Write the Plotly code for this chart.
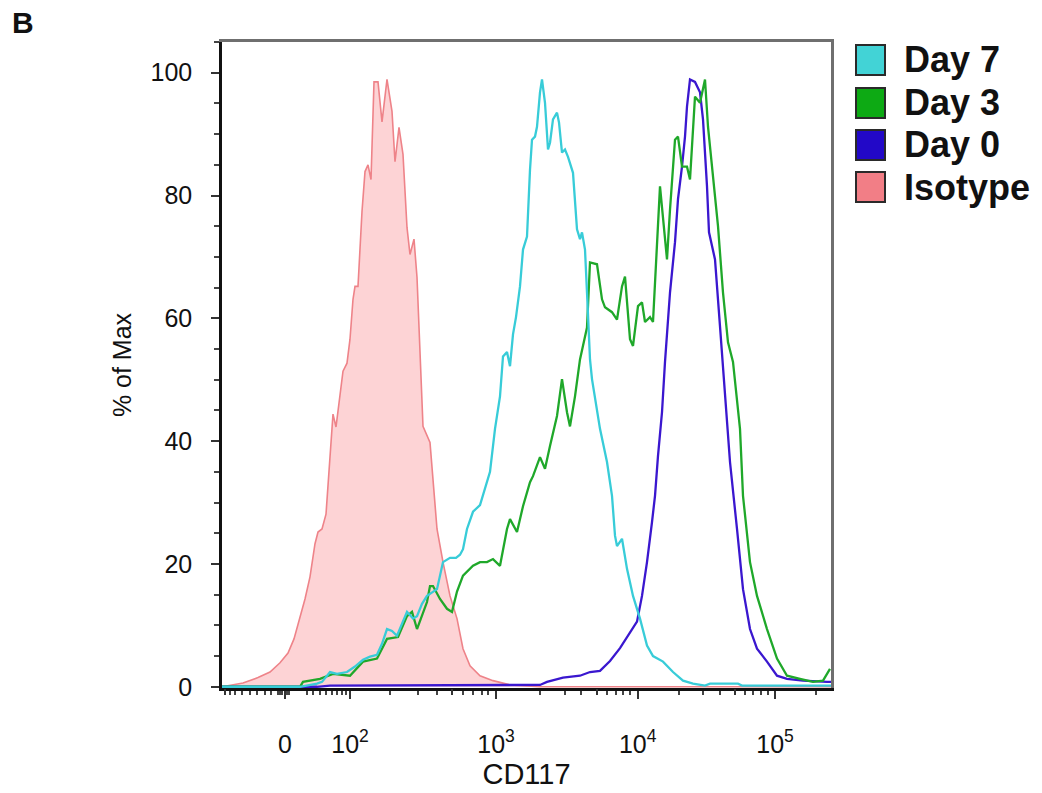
import plotly.graph_objects as go

# ---------------- data ----------------
# x = display channel on the biexponential CD117 axis (0 = left edge of the plot)
# y = % of Max
ISO_X = [0, 21, 36, 48, 58, 66, 72, 78, 83, 88,
         93, 96, 100, 104, 107, 109, 111, 114, 117, 121,
         125, 128, 131, 133, 136, 140, 143, 146, 149, 152,
         156, 160, 165, 170, 173, 177, 181, 185, 188, 192,
         195, 198, 201, 208, 211, 215, 221, 228, 235, 241,
         248, 258, 271, 288, 318, 609]
ISO_Y = [0, 0.6, 1.5, 2.4, 3.9, 5.5, 7.8, 11.4, 14.3, 17.9,
         23.3, 25.2, 25.7, 28.1, 35.5, 40.3, 44.4, 42.3, 46.0, 51.4,
         52.7, 56.6, 63.1, 65.2, 65.2, 77.4, 83.9, 85.0, 82.6, 98.5,
         98.5, 92.0, 98.9, 93.7, 85.5, 91.1, 86.7, 74.8, 70.4, 72.9,
         66.7, 53.3, 42.4, 39.8, 34.2, 25.7, 20.3, 14.8, 11.1, 6.2,
         3.4, 1.8, 1.0, 0.3, 0, 0]

DAY0_X = [0, 95, 108, 318, 325, 341, 358, 368, 378, 388,
          398, 408, 415, 420, 425, 430, 433, 436, 440, 443,
          448, 453, 456, 460, 463, 465, 468, 473, 478, 481,
          485, 487, 493, 498, 503, 508, 515, 521, 528, 535,
          545, 555, 565, 581, 605, 609]
DAY0_Y = [0, 0, 0.2, 0.3, 0.8, 1.5, 1.8, 2.4, 2.6, 4.2,
          6.3, 8.9, 10.6, 14.8, 20.3, 26.8, 31.1, 37.6, 44.7, 52.9,
          64.2, 72.4, 79.4, 84.7, 89.6, 94.5, 98.9, 98.5, 96.8, 92.4,
          81.5, 74.0, 69.6, 58.7, 47.3, 36.6, 25.7, 15.9, 9.4, 6.2,
          4.1, 1.8, 1.3, 1.0, 0.8, 0.8]

DAY3_X = [0, 78, 81, 98, 111, 128, 141, 155, 165, 176,
          185, 190, 195, 205, 208, 211, 218, 225, 230, 235,
          241, 251, 258, 265, 271, 278, 285, 288, 295, 301,
          308, 311, 318, 323, 328, 335, 340, 345, 348, 353,
          358, 365, 368, 375, 380, 383, 390, 395, 400, 403,
          408, 411, 416, 420, 423, 428, 431, 434, 438, 445,
          448, 453, 456, 460, 465, 468, 473, 478, 483, 486,
          491, 496, 501, 506, 511, 518, 521, 528, 535, 545,
          555, 565, 578, 591, 601, 608]
DAY3_Y = [0, 0, 0.8, 1.3, 2.1, 1.8, 4.1, 4.6, 7.8, 8.1,
          11.5, 12.2, 9.4, 13.8, 16.4, 16.4, 14.3, 12.7, 12.2, 15.5,
          18.1, 19.7, 20.3, 20.3, 20.8, 19.7, 25.7, 27.3, 25.2, 29.4,
          33.3, 34.3, 37.4, 35.5, 39.2, 44.1, 50.1, 44.7, 42.4, 47.3,
          53.3, 58.5, 69.1, 68.8, 63.1, 61.8, 61.0, 59.8, 65.2, 66.8,
          56.6, 55.5, 62.0, 62.6, 59.4, 60.2, 59.4, 70.0, 81.5, 69.6,
          77.7, 89.1, 89.6, 84.7, 84.7, 82.6, 96.1, 95.1, 98.9, 91.2,
          83.1, 75.0, 64.2, 56.1, 52.9, 42.0, 31.1, 20.3, 14.8, 9.4,
          4.6, 1.8, 1.3, 0.8, 1.0, 2.9]

DAY7_X = [0, 78, 95, 100, 108, 115, 125, 133, 141, 148,
          155, 160, 165, 170, 175, 180, 185, 191, 195, 200,
          205, 215, 221, 228, 234, 238, 241, 245, 251, 258,
          263, 268, 273, 278, 281, 285, 288, 291, 294, 298,
          301, 305, 308, 310, 313, 315, 318, 320, 323, 326,
          328, 331, 335, 337, 340, 343, 346, 351, 355, 358,
          360, 363, 365, 368, 370, 378, 385, 390, 393, 395,
          400, 405, 411, 418, 425, 431, 441, 451, 461, 471,
          483, 488, 516, 520, 609]
DAY7_Y = [0, 0, 0.5, 0.8, 2.4, 2.1, 2.4, 3.3, 4.4, 4.9,
          5.2, 7.0, 9.4, 9.1, 8.3, 10.4, 12.2, 11.1, 11.5, 13.5,
          14.8, 15.9, 20.3, 21.0, 21.0, 21.5, 22.4, 25.7, 28.5, 29.6,
          32.2, 35.0, 42.0, 47.3, 53.8, 54.5, 52.2, 57.4, 60.2, 65.2,
          71.2, 73.3, 84.2, 89.1, 89.6, 91.2, 96.8, 98.9, 95.1, 87.5,
          88.6, 92.4, 93.5, 91.9, 87.0, 87.5, 86.3, 83.7, 74.5, 72.9,
          74.0, 71.2, 64.2, 53.3, 50.1, 42.0, 36.6, 31.1, 24.6, 22.9,
          24.1, 19.2, 14.8, 11.1, 6.7, 5.0, 4.1, 2.4, 1.0, 0.5,
          0.2, 0.5, 0.5, 0.2, 0.2]

LEGEND_NAMES = ["Day 7", "Day 3", "Day 0", "Isotype"]
LEGEND_SWATCH = ["#42D3D6", "#0DAA14", "#2208C8", "#F27E86"]

# axis ticks (display channels)
X_MAJOR_CH = [63, 128, 274, 415.7, 553]
X_MAJOR_TEXT = ["0", "10<sup>2</sup>", "10<sup>3</sup>", "10<sup>4</sup>", "10<sup>5</sup>"]
X_MID_CH = [3, 229.7, 374.7, 513]
X_MINOR_CH = [8, 13, 19.7, 28, 35.3, 43, 48.7,
              56, 58, 60, 65, 67,
              84.7, 91.3, 98, 104, 109.7, 114.7, 119.7, 124,
              168, 196.3, 214.7, 241.3, 251.3, 259.7, 266.3,
              317.5, 342.5, 359, 384.5, 393.5, 401, 408,
              457, 481, 497.5, 522.5, 531, 538.5, 545.5,
              594]
Y_MAJOR = [0, 20, 40, 60, 80, 100]
X_RANGE = [0, 609]
Y_RANGE = [-0.2, 105]

# ---------------- figure ----------------
FONT = "Liberation Sans, Arial, sans-serif"
W, H = 1042, 793
ML, MR, MT, MB = 222, 211, 42, 105
PW, PH = W - ML - MR, H - MT - MB


def paper_x(px):
    return (px - ML) / PW


def paper_y(py):
    return (MT + PH - py) / PH


fig = go.Figure()
fig.add_trace(go.Scatter(x=ISO_X, y=ISO_Y, mode="lines", fill="tozeroy",
                         fillcolor="#FDD3D5", line=dict(color="#EE8389", width=1.6),
                         name="Isotype", showlegend=False))
fig.add_trace(go.Scatter(x=DAY0_X, y=DAY0_Y, mode="lines",
                         line=dict(color="#3A17CF", width=2.3),
                         name="Day 0", showlegend=False))
fig.add_trace(go.Scatter(x=DAY3_X, y=DAY3_Y, mode="lines",
                         line=dict(color="#1FA82A", width=2.3),
                         name="Day 3", showlegend=False))
fig.add_trace(go.Scatter(x=DAY7_X, y=DAY7_Y, mode="lines",
                         line=dict(color="#38CCD8", width=2.3),
                         name="Day 7", showlegend=False))
# empty traces so overlay axes (mid ticks, frame) get drawn
fig.add_trace(go.Scatter(x=[None], y=[None], xaxis="x2", yaxis="y",
                         showlegend=False, hoverinfo="skip"))
fig.add_trace(go.Scatter(x=[None], y=[None], xaxis="x3", yaxis="y2",
                         showlegend=False, hoverinfo="skip"))

fig.update_layout(
    width=W, height=H,
    margin=dict(l=ML, r=MR, t=MT, b=MB, autoexpand=False),
    paper_bgcolor="white", plot_bgcolor="white",
    font=dict(family=FONT, color="#111"),
    showlegend=False,
    xaxis=dict(
        range=X_RANGE, showgrid=False, zeroline=False, automargin=False,
        showline=True, linecolor="#111", linewidth=2.5,
        ticks="outside", ticklen=8, tickwidth=2, tickcolor="#333",
        tickmode="array", tickvals=X_MAJOR_CH, ticktext=X_MAJOR_TEXT,
        tickfont=dict(size=25, family=FONT, color="#111"),
        ticklabelstandoff=24,
        minor=dict(tickmode="array", tickvals=X_MINOR_CH, ticks="outside",
                   ticklen=4, tickwidth=2, tickcolor="#444", showgrid=False),
        title=dict(text="CD117", font=dict(size=29, family=FONT, color="#111"), standoff=3),
        layer="below traces",
    ),
    xaxis2=dict(
        overlaying="x", anchor="y", side="bottom", range=X_RANGE,
        showgrid=False, zeroline=False, showline=False, automargin=False,
        ticks="outside", ticklen=6, tickwidth=2, tickcolor="#333",
        tickmode="array", tickvals=X_MID_CH, showticklabels=False,
    ),
    xaxis3=dict(
        overlaying="x", anchor="y2", side="top", range=X_RANGE,
        showgrid=False, zeroline=False, showline=True, automargin=False,
        linecolor="#6f6f6f", linewidth=3, ticks="", showticklabels=False,
    ),
    yaxis=dict(
        range=Y_RANGE, showgrid=False, zeroline=False, automargin=False,
        showline=True, linecolor="#111", linewidth=2.5,
        ticks="outside", ticklen=8, tickwidth=2, tickcolor="#333",
        tickmode="array", tickvals=Y_MAJOR,
        tickfont=dict(size=25, family=FONT, color="#111"),
        ticklabelstandoff=14,
        minor=dict(dtick=5, ticks="outside", ticklen=5, tickwidth=2,
                   tickcolor="#444", showgrid=False),
        title=dict(text="% of Max", font=dict(size=25, family=FONT, color="#111"), standoff=12),
    ),
    yaxis2=dict(
        overlaying="y", anchor="x3", side="right", range=Y_RANGE,
        showgrid=False, zeroline=False, showline=True, automargin=False,
        linecolor="#6f6f6f", linewidth=3, ticks="", showticklabels=False,
    ),
)

# legend drawn as swatches + labels (paper coordinates)
shapes = []
annotations = []
LEG_TOP = [45, 88, 130, 172]
for name, col, top in zip(LEGEND_NAMES, LEGEND_SWATCH, LEG_TOP):
    shapes.append(dict(type="rect", xref="paper", yref="paper",
                       x0=paper_x(856), x1=paper_x(885),
                       y0=paper_y(top + 30), y1=paper_y(top),
                       fillcolor=col, line=dict(color="#2a2a2a", width=2)))
    annotations.append(dict(xref="paper", yref="paper", x=paper_x(902),
                            y=paper_y(top + 15), xanchor="left", yanchor="middle",
                            text="<b>" + name + "</b>", showarrow=False,
                            font=dict(size=36, family=FONT, color="#111")))
annotations.append(dict(xref="paper", yref="paper", x=paper_x(10), y=paper_y(22),
                        xanchor="left", yanchor="middle", text="<b>B</b>",
                        showarrow=False, font=dict(size=30, family=FONT, color="#111")))
fig.update_layout(shapes=shapes, annotations=annotations)

fig.write_html("out.html")
